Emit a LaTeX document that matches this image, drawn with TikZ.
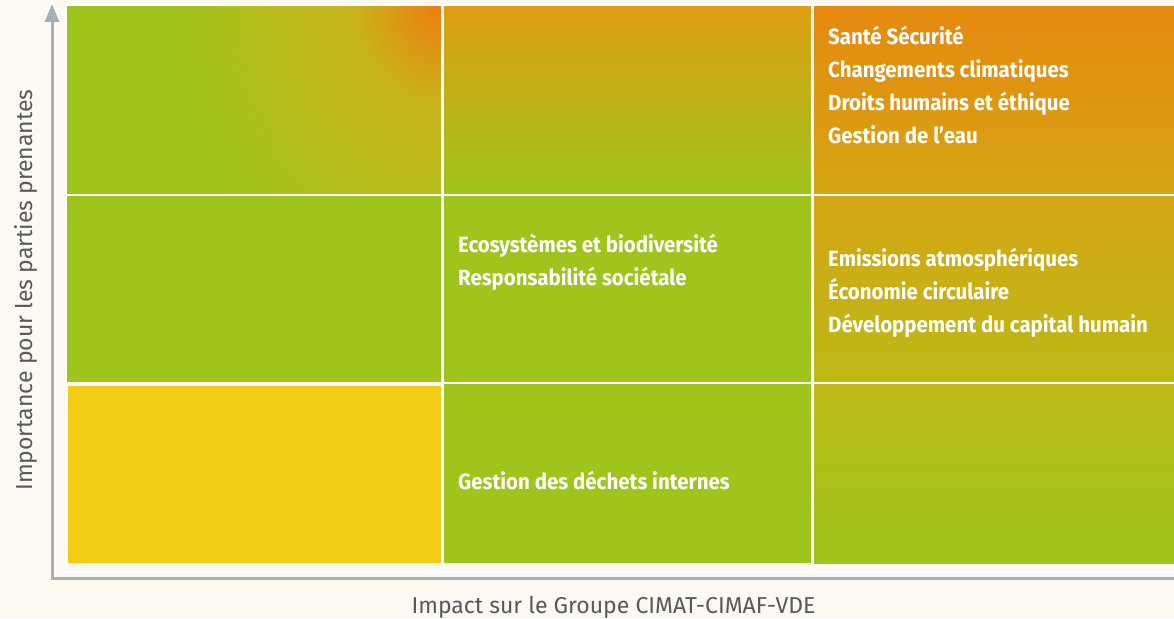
\documentclass[tikz,border=0pt]{standalone}
\usepackage{fontspec}
\setmainfont{Fira Sans}
\newfontfamily\itemfont{Fira Sans}[FakeStretch=0.93]
\newfontfamily\axisfont{Fira Sans}
\usepackage{tikz}
\usetikzlibrary{arrows.meta,positioning}

\definecolor{bgcream}{HTML}{FCF9F2}
\definecolor{axisgray}{HTML}{A7B0B4}
\definecolor{labelgray}{HTML}{58595B}
\definecolor{cgreen}{HTML}{9FC41C}
\definecolor{cyellow}{HTML}{F4CB15}
\definecolor{corange}{HTML}{EE7C10}
\definecolor{cmid}{HTML}{C8B418}
\definecolor{topmid}{HTML}{DE9E12}
\definecolor{topright}{HTML}{E7890F}
\definecolor{rowone}{HTML}{D4A514}
\definecolor{rowtwo}{HTML}{BDB917}

\pgfdeclareradialshading{cornerglow}{\pgfpoint{0bp}{0bp}}{color(0bp)=(corange); color(8bp)=(cmid); color(25bp)=(cgreen); color(50bp)=(cgreen)}

\begin{document}
\begin{tikzpicture}[x=1pt,y=1pt,>={Triangle[width=14pt,length=18pt]}]
	\tikzstyle{cell}=[draw=none,inner sep=0pt,outer sep=0pt,anchor=south west]
	\tikzstyle{item}=[text=white,font=\itemfont\bfseries\fontsize{22}{26}\selectfont,inner sep=0pt,anchor=base west]
	\tikzstyle{axislabel}=[text=labelgray,font=\axisfont\fontsize{23}{27}\selectfont,inner sep=0pt,anchor=base]
	\tikzstyle{grid}=[white,line width=2.2pt]

	\fill[bgcream] (0,0) rectangle (1174,618);
	\useasboundingbox (0,0) rectangle (1174,618);

	% cells, row 1 is the top one
	\node[cell,minimum width=375.5pt,minimum height=189pt,fill=cgreen] (c11) at (67,423) {};
	\node[cell,minimum width=370pt,minimum height=189pt,top color=topmid,bottom color=cgreen] (c12) at (442.5,423) {};
	\node[cell,minimum width=361.5pt,minimum height=189pt,top color=topright,bottom color=rowone] (c13) at (812.5,423) {};
	\node[cell,minimum width=375.5pt,minimum height=188pt,fill=cgreen] (c21) at (67,235) {};
	\node[cell,minimum width=370pt,minimum height=188pt,fill=cgreen] (c22) at (442.5,235) {};
	\node[cell,minimum width=361.5pt,minimum height=188pt,top color=rowone,bottom color=rowtwo] (c23) at (812.5,235) {};
	\node[cell,minimum width=374.5pt,minimum height=177pt,fill=cyellow] (c31) at (68,55) {};
	\node[cell,minimum width=370pt,minimum height=180pt,fill=cgreen] (c32) at (442.5,55) {};
	\node[cell,minimum width=361.5pt,minimum height=180pt,top color=rowtwo,bottom color=cgreen] (c33) at (812.5,55) {};

	\begin{scope}
		\clip (c11.south west) rectangle (c11.north east);
		\shade[shading=cornerglow] (c11.north east) ellipse [x radius=275, y radius=305];
	\end{scope}

	% white frame and separators
	\draw[grid] (66,613) -- (1174,613);
	\draw[grid] (66,423) -- (1174,423);
	\draw[grid] (66,235) -- (1174,235);
	\draw[grid] (66,46) -- (1174,46);
	\draw[grid] (66,46) -- (66,613);
	\draw[grid] (442.5,46) -- (442.5,613);
	\draw[grid] (812.5,46) -- (812.5,613);

	% axes
	\coordinate (orig) at (52,40);
	\coordinate (xend) at (1174,40);
	\coordinate (ytop) at (52,614);
	\draw[->,axisgray,line width=3pt,line join=miter] (xend) -- (orig) -- (ytop);

	\node[axislabel] (xlab) at (613.5,5) {Impact sur le Groupe CIMAT-CIMAF-VDE};
	\node[axislabel,rotate=90] (ylab) at (32,328) {Importance pour les parties prenantes};

	% issues
	\node[item] (s1) at (828,573) {Santé Sécurité};
	\node[item] (s2) at ([yshift=-33pt]s1.base west) {Changements climatiques};
	\node[item] (s3) at ([yshift=-33pt]s2.base west) {Droits humains et éthique};
	\node[item] (s4) at ([yshift=-33pt]s3.base west) {Gestion de l’eau};

	\node[item] (e1) at (828,351) {Emissions atmosphériques};
	\node[item] (e2) at ([yshift=-33pt]e1.base west) {Économie circulaire};
	\node[item] (e3) at ([yshift=-33pt]e2.base west) {Développement du capital humain};

	\node[item] (b1) at (458,365) {Ecosystèmes et biodiversité};
	\node[item] (b2) at ([yshift=-33pt]b1.base west) {Responsabilité sociétale};

	\node[item] (g1) at (458,128) {Gestion des déchets internes};
\end{tikzpicture}
\end{document}
